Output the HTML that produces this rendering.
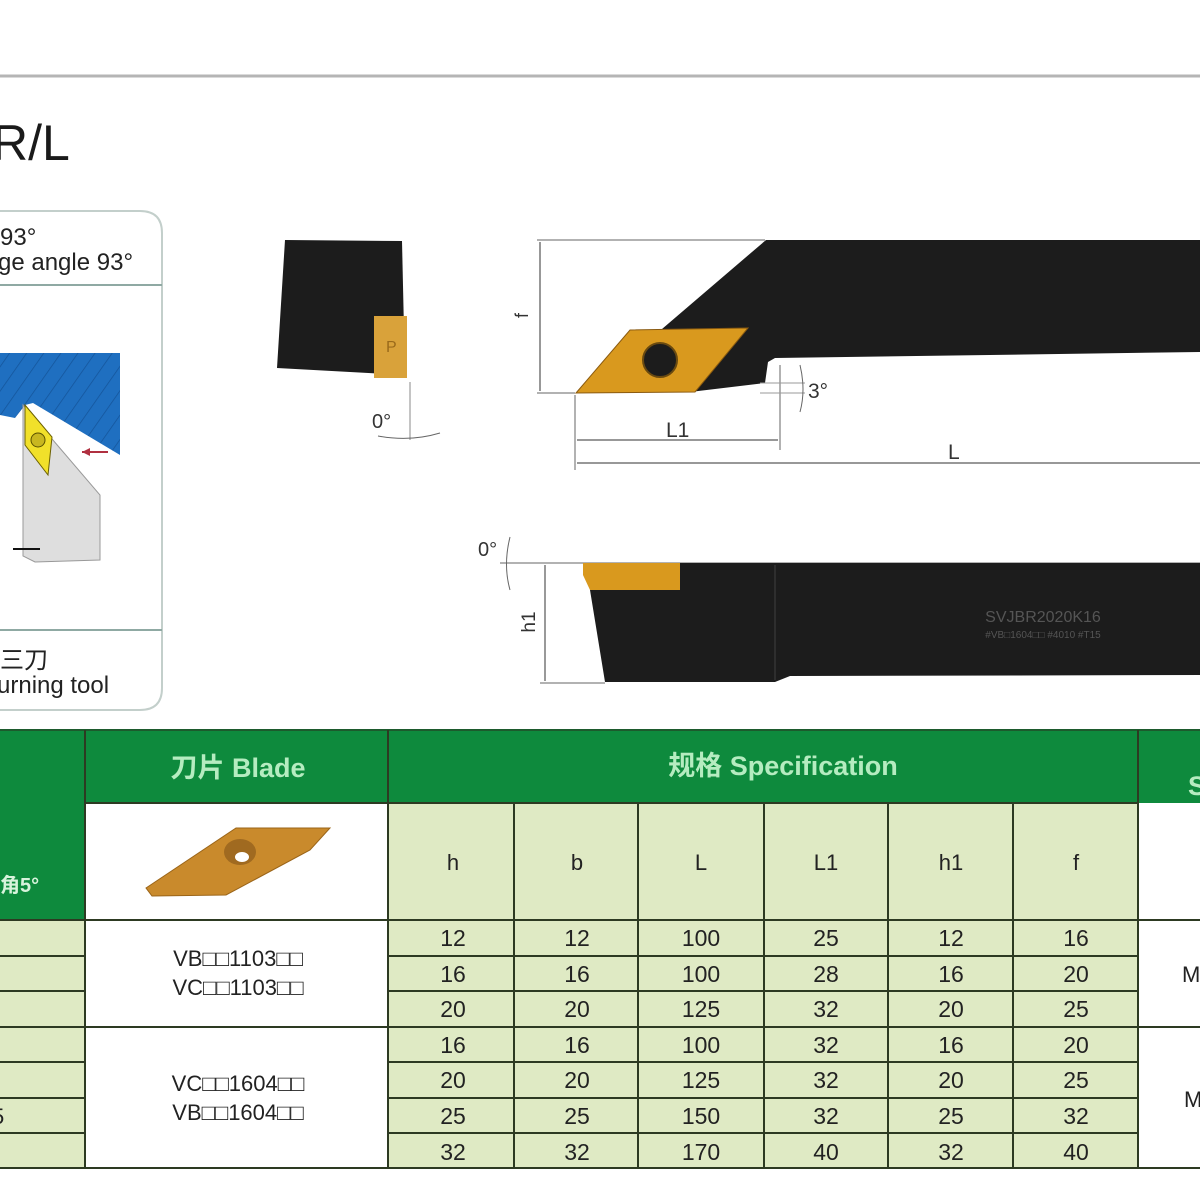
<!DOCTYPE html>
<html><head><meta charset="utf-8"><style>
html,body{margin:0;padding:0;background:#fff;}
svg{display:block;}
text{font-family:"Liberation Sans","Noto Sans CJK SC",sans-serif;}
</style></head><body>
<svg width="1200" height="1200" viewBox="0 0 1200 1200" xmlns="http://www.w3.org/2000/svg">
<rect width="1200" height="1200" fill="#fff"/>
<line x1="0" y1="76" x2="1200" y2="76" stroke="#b5b5b5" stroke-width="3"/>
<text x="-8" y="160" font-size="50" fill="#1a1a1a">R/L</text>

<!-- left panel -->
<path d="M-10 211 H140 Q162 211 162 233 V688 Q162 710 140 710 H-10" fill="none" stroke="#c3cfcb" stroke-width="2"/>
<line x1="0" y1="285" x2="162" y2="285" stroke="#8fa9a3" stroke-width="2"/>
<line x1="0" y1="630" x2="162" y2="630" stroke="#8fa9a3" stroke-width="2"/>
<text x="0" y="245" font-size="24" fill="#222">93°</text>
<text x="-2" y="270" font-size="24" fill="#222">ge angle 93°</text>
<text x="0" y="668" font-size="24" fill="#222">三刀</text>
<text x="-3" y="693" font-size="24" fill="#222">urning tool</text>
<defs><pattern id="h" width="14" height="14" patternUnits="userSpaceOnUse" patternTransform="rotate(35)"><rect width="14" height="14" fill="#1f6fc0"/><line x1="0" y1="0" x2="0" y2="14" stroke="#14549a" stroke-width="1.5"/></pattern></defs>
<polygon points="0,353 120,353 120,455 33,403 25,405 15,418 0,415" fill="url(#h)"/>
<polygon points="23,405 100,495 100,560 35,562 23,556" fill="#dedede" stroke="#999" stroke-width="1"/>
<polygon points="25,405 52,437 48,475 25,445" fill="#f1e02a" stroke="#6b6000" stroke-width="1"/>
<circle cx="38" cy="440" r="7" fill="#c8b720" stroke="#5a5200"/>
<line x1="82" y1="452" x2="108" y2="452" stroke="#b03040" stroke-width="2"/>
<polygon points="82,452 90,448 90,456" fill="#b03040"/>
<line x1="13" y1="549" x2="40" y2="549" stroke="#111" stroke-width="2"/>

<!-- end view -->
<polygon points="285,240 402,241 405,375 277,368" fill="#1c1c1c"/>
<rect x="374" y="316" width="33" height="62" fill="#d9a23a"/>
<text x="386" y="352" font-size="16" fill="#9a6a1a">P</text>
<line x1="410" y1="382" x2="410" y2="440" stroke="#888" stroke-width="1"/>
<path d="M378 436 Q410 442 440 433" fill="none" stroke="#666" stroke-width="1"/>
<text x="372" y="428" font-size="20" fill="#333">0°</text>

<!-- top view -->
<line x1="537" y1="240" x2="765" y2="240" stroke="#999" stroke-width="1.5"/>
<line x1="537" y1="393" x2="575" y2="393" stroke="#999" stroke-width="1.5"/>
<line x1="540" y1="242" x2="540" y2="391" stroke="#777" stroke-width="1.5"/>
<text x="528" y="318" font-size="18" fill="#333" transform="rotate(-90 528 318)">f</text>
<polygon points="766,240 1200,240 1200,352 775,358 768,362 765,383 690,392 655,335" fill="#1c1c1c"/>
<polygon points="576,393 630,330 748,328 695,392" fill="#d9991e" stroke="#8a5a10" stroke-width="1"/>
<circle cx="660" cy="360" r="17" fill="#1c1c1c" stroke="#6a4a10" stroke-width="2"/>
<line x1="575" y1="395" x2="575" y2="470" stroke="#999" stroke-width="1.5"/>
<line x1="780" y1="365" x2="780" y2="450" stroke="#999" stroke-width="1.5"/>
<line x1="577" y1="440" x2="778" y2="440" stroke="#777" stroke-width="1.5"/>
<text x="666" y="437" font-size="21" fill="#333">L1</text>
<line x1="577" y1="463" x2="1200" y2="463" stroke="#777" stroke-width="1.5"/>
<text x="948" y="459" font-size="21" fill="#333">L</text>
<line x1="760" y1="383" x2="805" y2="383" stroke="#999" stroke-width="1"/>
<line x1="760" y1="393" x2="805" y2="393" stroke="#999" stroke-width="1"/>
<path d="M800 365 Q806 390 800 412" fill="none" stroke="#666" stroke-width="1"/>
<text x="808" y="398" font-size="21" fill="#333">3°</text>

<!-- side view -->
<line x1="500" y1="563" x2="1200" y2="563" stroke="#999" stroke-width="1.5"/>
<line x1="540" y1="683" x2="605" y2="683" stroke="#999" stroke-width="1.5"/>
<line x1="545" y1="565" x2="545" y2="681" stroke="#777" stroke-width="1.5"/>
<text x="535" y="622" font-size="19" fill="#333" transform="rotate(-90 535 622)" text-anchor="middle">h1</text>
<text x="478" y="556" font-size="20" fill="#333">0°</text>
<path d="M510 537 Q503 565 510 590" fill="none" stroke="#666" stroke-width="1"/>
<polygon points="590,590 680,590 680,563 1200,563 1200,675 790,676 775,682 605,682" fill="#1c1c1c"/>
<line x1="775" y1="565" x2="775" y2="680" stroke="#2e2e2e" stroke-width="2"/>
<polygon points="583,563 680,563 680,590 590,590 583,575" fill="#d9991e"/>
<text x="1043" y="622" font-size="16" fill="#555" text-anchor="middle">SVJBR2020K16</text>
<text x="1043" y="638" font-size="10" fill="#555" text-anchor="middle">#VB□1604□□ #4010 #T15</text>

<!-- table -->
<rect x="0" y="730" width="1200" height="73" fill="#0e8a3d"/>
<rect x="0" y="803" width="85" height="117" fill="#0e8a3d"/>
<rect x="85" y="803" width="303" height="117" fill="#fff"/>
<rect x="388" y="803" width="750" height="365" fill="#dfeac4"/>
<rect x="0" y="920" width="85" height="248" fill="#dfeac4"/>
<rect x="85" y="920" width="303" height="248" fill="#fff"/>
<rect x="1138" y="803" width="62" height="365" fill="#fff"/>
<line x1="0" y1="730" x2="1200" y2="730" stroke="#1d5a2d" stroke-width="2"/>
<g stroke="#2d3a22" stroke-width="2">
<line x1="85" y1="730" x2="85" y2="1168"/>
<line x1="388" y1="730" x2="388" y2="1168"/>
<line x1="1138" y1="730" x2="1138" y2="1168"/>
<line x1="514" y1="803" x2="514" y2="1168"/>
<line x1="638" y1="803" x2="638" y2="1168"/>
<line x1="764" y1="803" x2="764" y2="1168"/>
<line x1="888" y1="803" x2="888" y2="1168"/>
<line x1="1013" y1="803" x2="1013" y2="1168"/>
<line x1="85" y1="803" x2="1138" y2="803"/>
<line x1="0" y1="920" x2="1200" y2="920"/>
<line x1="0" y1="956" x2="85" y2="956"/><line x1="388" y1="956" x2="1138" y2="956"/>
<line x1="0" y1="991" x2="85" y2="991"/><line x1="388" y1="991" x2="1138" y2="991"/>
<line x1="0" y1="1027" x2="1200" y2="1027"/>
<line x1="0" y1="1062" x2="85" y2="1062"/><line x1="388" y1="1062" x2="1138" y2="1062"/>
<line x1="0" y1="1098" x2="85" y2="1098"/><line x1="388" y1="1098" x2="1138" y2="1098"/>
<line x1="0" y1="1133" x2="85" y2="1133"/><line x1="388" y1="1133" x2="1138" y2="1133"/>
<line x1="0" y1="1168" x2="1200" y2="1168"/>
</g>
<text x="238" y="777" font-size="27" fill="#b5ecc0" text-anchor="middle" font-weight="bold">刀片 Blade</text>
<text x="783" y="775" font-size="27" fill="#b5ecc0" text-anchor="middle" font-weight="bold">规格 Specification</text>
<text x="1188" y="795" font-size="27" fill="#b5ecc0" font-weight="bold">S</text>
<text x="0" y="892" font-size="20" fill="#d8f3dc" font-weight="bold">角5°</text>
<polygon points="146,888 236,828 330,828 310,850 226,895 152,896" fill="#c98a2c" stroke="#9a6418"/>
<ellipse cx="240" cy="852" rx="16" ry="13" fill="#a06a20"/>
<ellipse cx="242" cy="857" rx="7" ry="5" fill="#fff"/>
<g font-size="22" fill="#222" text-anchor="middle">
<text x="453" y="870">h</text><text x="577" y="870">b</text><text x="701" y="870">L</text><text x="826" y="870">L1</text><text x="951" y="870">h1</text><text x="1076" y="870">f</text>
<text x="238" y="966">VB□□1103□□</text><text x="238" y="995">VC□□1103□□</text>
<text x="238" y="1091">VC□□1604□□</text><text x="238" y="1120">VB□□1604□□</text>
</g>
<g font-size="23" fill="#222" text-anchor="middle">
<g transform="translate(0,946)"><text x="453">12</text><text x="577">12</text><text x="701">100</text><text x="826">25</text><text x="951">12</text><text x="1076">16</text></g>
<g transform="translate(0,982)"><text x="453">16</text><text x="577">16</text><text x="701">100</text><text x="826">28</text><text x="951">16</text><text x="1076">20</text></g>
<g transform="translate(0,1017)"><text x="453">20</text><text x="577">20</text><text x="701">125</text><text x="826">32</text><text x="951">20</text><text x="1076">25</text></g>
<g transform="translate(0,1053)"><text x="453">16</text><text x="577">16</text><text x="701">100</text><text x="826">32</text><text x="951">16</text><text x="1076">20</text></g>
<g transform="translate(0,1088)"><text x="453">20</text><text x="577">20</text><text x="701">125</text><text x="826">32</text><text x="951">20</text><text x="1076">25</text></g>
<g transform="translate(0,1124)"><text x="453">25</text><text x="577">25</text><text x="701">150</text><text x="826">32</text><text x="951">25</text><text x="1076">32</text></g>
<g transform="translate(0,1160)"><text x="453">32</text><text x="577">32</text><text x="701">170</text><text x="826">40</text><text x="951">32</text><text x="1076">40</text></g>
</g>
<text x="1182" y="982" font-size="22" fill="#222">M</text>
<text x="1184" y="1107" font-size="22" fill="#222">M</text>
<text x="-8" y="1124" font-size="22" fill="#222">5</text>
</svg>
</body></html>
